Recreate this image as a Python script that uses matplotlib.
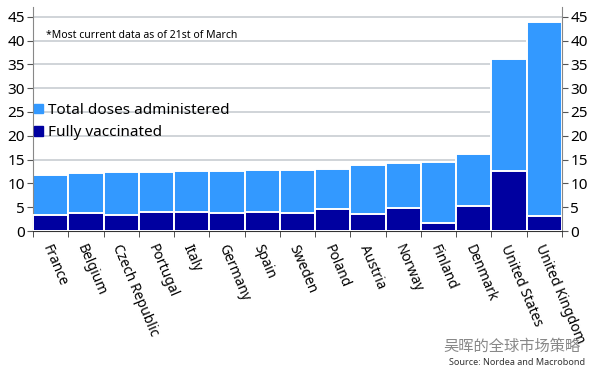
import numpy as np
import matplotlib.pyplot as plt
from matplotlib.patches import Patch

plt.rcParams['font.family'] = ['Noto Sans', 'Noto Sans CJK SC', 'DejaVu Sans']

countries = ["France", "Belgium", "Czech Republic", "Portugal", "Italy", "Germany",
             "Spain", "Sweden", "Poland", "Austria", "Norway", "Finland",
             "Denmark", "United States", "United Kingdom"]
total_doses = [11.8, 12.2, 12.3, 12.5, 12.6, 12.7, 12.8, 12.9, 13.1, 13.9, 14.2, 14.4,
               16.1, 36.1, 43.9]
fully_vacc = [3.4, 3.8, 3.4, 4.0, 4.0, 3.9, 4.1, 3.8, 4.7, 3.5, 4.8, 1.7, 5.3, 12.6, 3.2]
yticks = [0, 5, 10, 15, 20, 25, 30, 35, 40, 45]

light = "#3399ff"
dark = "#0000a0"

fig = plt.figure(figsize=(5.97, 3.77), dpi=100)
ax = fig.add_axes([0.0553, 0.387, 0.886, 0.594])

x = np.arange(len(countries))
ax.bar(x, total_doses, width=1.0, color=light, edgecolor="white", linewidth=1.4, zorder=2)
ax.bar(x, fully_vacc, width=1.0, color=dark, edgecolor="white", linewidth=1.4, zorder=3)

ax.set_xlim(-0.5, len(countries) - 0.5)
ax.set_ylim(0, 47)
ax.set_yticks(yticks)
ax.grid(axis="y", color="#c8cdd2", linewidth=1.2, zorder=0)
ax.set_axisbelow(True)

ax.tick_params(axis="y", which="both", left=True, right=True, labelleft=True,
               labelright=True, labelsize=11, color="#555555", length=4, pad=2)
ax.set_xticks(x + 0.05)
ax.set_xticklabels(countries, rotation=-67, ha="left", va="top",
                   rotation_mode="anchor", fontsize=10)
ax.tick_params(axis="x", which="major", length=0, pad=8)
ax.set_xticks(np.append(x - 0.5, len(countries) - 0.5), minor=True)
ax.tick_params(axis="x", which="minor", length=4, color="#333333")

ax.spines["top"].set_visible(False)
ax.spines["left"].set_color("#888888")
ax.spines["right"].set_color("#888888")
ax.spines["bottom"].set_color("#333333")

ax.text(0.025, 0.875, "*Most current data as of 21st of March", transform=ax.transAxes,
        fontsize=7.5, va="center", ha="left")

handles = [Patch(color=light, label="Total doses administered"),
           Patch(color=dark, label="Fully vaccinated")]
ax.legend(handles=handles, loc="upper left", bbox_to_anchor=(-0.01, 0.60),
          frameon=False, fontsize=11, handlelength=0.6, handleheight=0.6,
          handletextpad=0.3, labelspacing=0.5, borderaxespad=0)

fig.text(0.972, 0.078, "吴晖的全球市场策略", fontsize=11, color="#888888",
         ha="right", va="center")
fig.text(0.98, 0.038, "Source: Nordea and Macrobond", fontsize=6.5, color="#333333",
         ha="right", va="center")

fig.savefig("out.png", dpi=100)
